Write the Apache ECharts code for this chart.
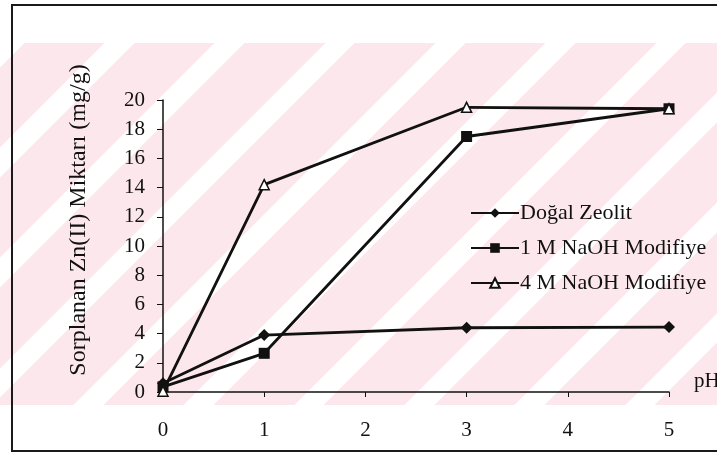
<html>
  <head>
    <meta charset="utf-8">
    <script src="https://cdn.jsdelivr.net/npm/echarts@6/dist/echarts.min.js"></script>
    <style>
      body { margin: 0; background-color: #fff; }
      #wm { position: absolute; left: 0; top: 43px; width: 717px; height: 362px;
            background: repeating-linear-gradient(135deg, #fff 0px, #fff 17px, #fce8ec 17px, #fce8ec 74px, #fff 74px, #fff 78px); }
      #frame { position: absolute; left: 11px; top: 4px; width: 720px; height: 444px;
               border: 2px solid #1a1a1a; }
      #chart { position: absolute; left: 0; top: 0; width: 717px; height: 452px; }
    </style>
  </head>
  <body>
    <div id="wm"></div>
    <div id="frame"></div>
    <div id="chart"></div>
  </body>
  <script>
    // pH values and sorbed Zn(II) amounts (mg/g)
    var phValues = [0, 1, 3, 5];
    var dogalZeolit = [0.6, 3.9, 4.4, 4.45];
    var naoh1M = [0.35, 2.65, 17.5, 19.4];
    var naoh4M = [0.05, 14.2, 19.5, 19.4];
    var seriesNames = ['Doğal Zeolit', '1 M NaOH Modifiye', '4 M NaOH Modifiye'];

    function pairs(ys) {
        var out = [];
        for (let i in phValues) {
            out.push([phValues[i], ys[i]]);
        }
        return out;
    }

    var font = "'Liberation Serif', 'Times New Roman', serif";
    var ink = '#111';

    var chartDom = document.getElementById('chart');
    var chart = echarts.init(chartDom);
    var option = {
        backgroundColor: 'transparent',
        animation: false,
        grid: { left: 163, right: 48, top: 100, bottom: 60, outerBoundsMode: 'none', containLabel: false },
        legend: {
            orient: 'vertical', left: 465, top: 197,
            itemWidth: 48, itemHeight: 12, itemGap: 13,
            textStyle: { fontFamily: font, fontSize: 22, color: ink, padding: [0, 0, 0, -4] },
            data: seriesNames
        },
        xAxis: {
            type: 'value', min: 0, max: 5, interval: 1,
            name: 'pH', nameLocation: 'end', nameGap: 25,
            nameTextStyle: { fontFamily: font, fontSize: 21, color: ink, verticalAlign: 'bottom' },
            splitLine: { show: false },
            axisLine: { lineStyle: { color: ink, width: 1.5 } },
            axisTick: { length: 5, lineStyle: { color: ink } },
            axisLabel: { margin: 28, fontFamily: font, fontSize: 21, color: ink }
        },
        yAxis: {
            type: 'value', min: 0, max: 20, interval: 2,
            name: 'Sorplanan Zn(II) Miktarı (mg/g)', nameLocation: 'middle', nameGap: 72,
            nameTextStyle: { fontFamily: font, fontSize: 24, color: ink, padding: [0, 0, 0, 52] },
            splitLine: { show: false },
            axisLine: { show: true, lineStyle: { color: ink, width: 1.5 } },
            axisTick: { show: true, length: 6, lineStyle: { color: ink } },
            axisLabel: { margin: 18, fontFamily: font, fontSize: 21, color: ink }
        },
        series: [
            { name: seriesNames[0], type: 'line', data: pairs(dogalZeolit),
              symbol: 'diamond', symbolSize: 12,
              lineStyle: { color: ink, width: 2.8 }, itemStyle: { color: ink } },
            { name: seriesNames[1], type: 'line', data: pairs(naoh1M),
              symbol: 'rect', symbolSize: 11,
              lineStyle: { color: ink, width: 2.8 }, itemStyle: { color: ink } },
            { name: seriesNames[2], type: 'line', data: pairs(naoh4M),
              symbol: 'triangle', symbolSize: 10,
              lineStyle: { color: ink, width: 2.8 },
              itemStyle: { color: '#fff', borderColor: ink, borderWidth: 1.5 } }
        ]
    };
    chart.setOption(option);
  </script>
</html>
